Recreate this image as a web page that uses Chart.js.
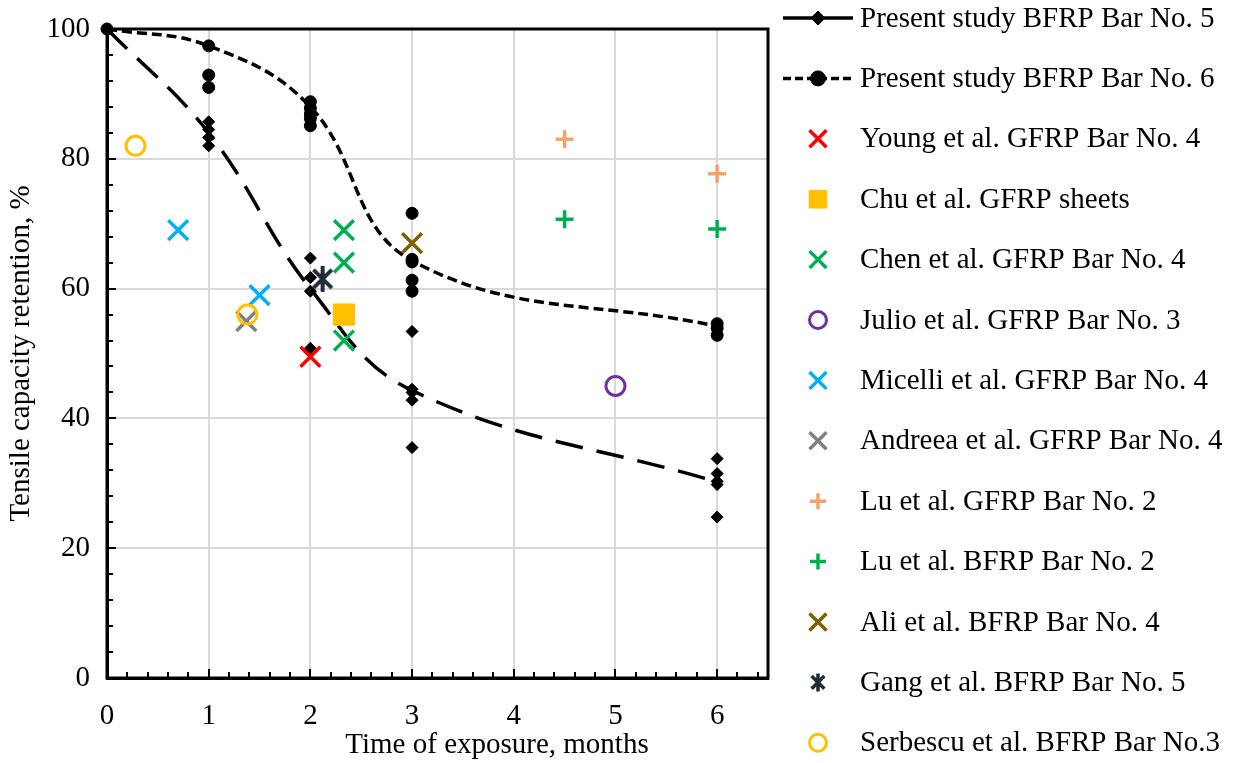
<!DOCTYPE html>
<html>
<head>
<meta charset="utf-8">
<script src="https://cdn.jsdelivr.net/npm/chart.js@4.4.1/dist/chart.umd.min.js"></script>
<style>
  html, body { margin: 0; padding: 0; background: #fff; }
  canvas { display: block; }
</style>
</head>
<body>
<canvas id="retentionChart" width="1235" height="763"></canvas>
<script>
// Tested bars: exposure time (months) and tensile capacity retention (%)
const bar5Months = [0, 1, 1, 1, 1, 2, 2, 2, 2, 3, 3, 3, 3, 3, 6, 6, 6, 6, 6];
const bar5Retention = [100, 85.7, 84.5, 83.3, 82.0, 64.7, 61.7, 59.6, 50.8, 53.4, 44.5, 44.0, 42.8, 35.5, 33.8, 31.5, 30.3, 29.8, 24.8];
const bar6Months = [0, 1, 1, 1, 2, 2, 2, 2, 2, 3, 3, 3, 3, 3, 6, 6, 6];
const bar6Retention = [100, 97.4, 92.9, 91.0, 88.8, 87.8, 86.9, 86.2, 85.1, 71.6, 64.5, 64.1, 61.3, 59.6, 54.6, 53.9, 52.8];

// Trend curves through the tested bars
const trendMonths = [0, 1, 2, 3, 6];
const bar5Trend = [100, 84, 60, 44.3, 30.2];
const bar6Trend = [100, 97.4, 88, 64.3, 54.2];

// Literature results as [months, retention %]
const young = [[2, 49.5]];
const chu = [[2.33, 56]];
const chen = [[2.33, 69], [2.33, 64], [2.33, 52]];
const julio = [[5, 45]];
const micelli = [[0.7, 69], [1.5, 59]];
const andreea = [[1.37, 55]];
const luGfrp = [[4.5, 83], [6, 77.7]];
const luBfrp = [[4.5, 70.7], [6, 69.2]];
const ali = [[3, 67]];
const gang = [[2.12, 61.5]];
const serbescu = [[0.28, 82], [1.38, 56]];

const xTicks = [0, 1, 2, 3, 4, 5, 6];
const yTicks = [0, 20, 40, 60, 80, 100];

const FONT = '"Liberation Serif", "Times New Roman", serif';

function pts(xs, ys) { return xs.map((x, i) => ({ x, y: ys[i] })); }
function pairs(list) { return list.map(([x, y]) => ({ x, y })); }

// asterisk marker: an x with a vertical bar
function drawAsterisk(ctx, cx, cy, r, color, lw) {
  const d = r * Math.SQRT1_2;
  ctx.save();
  ctx.strokeStyle = color;
  ctx.lineWidth = lw;
  ctx.beginPath();
  ctx.moveTo(cx - d, cy - d); ctx.lineTo(cx + d, cy + d);
  ctx.moveTo(cx + d, cy - d); ctx.lineTo(cx - d, cy + d);
  ctx.moveTo(cx, cy - r); ctx.lineTo(cx, cy + r);
  ctx.stroke();
  ctx.restore();
}
const gangIcon = document.createElement('canvas');
gangIcon.width = 30; gangIcon.height = 30;
drawAsterisk(gangIcon.getContext('2d'), 15, 15, 13, '#222A35', 4);

function marker(label, data, color, style, radius, legendRadius, extra) {
  return Object.assign({
    label, data,
    showLine: false,
    pointStyle: style,
    pointRadius: radius,
    pointHoverRadius: radius,
    borderColor: color,
    backgroundColor: color,
    pointBorderWidth: 3.5,
    legendRadius,
    clip: false
  }, extra || {});
}

const datasets = [
  marker('Present study BFRP Bar No. 5', pts(bar5Months, bar5Retention), '#000', 'rectRot', 6, 7,
    { pointBorderWidth: 1, legendDash: [], order: 13 }),
  marker('Present study BFRP Bar No. 6', pts(bar6Months, bar6Retention), '#000', 'circle', 6, 7.5,
    { pointBorderWidth: 1, legendDash: [8, 4], order: 12 }),
  marker('Young et al. GFRP Bar No. 4', pairs(young), '#FF0000', 'crossRot', 14, 12, { order: 11 }),
  marker('Chu et al. GFRP sheets', pairs(chu), '#FFC000', 'rect', 15, 12.5, { pointBorderWidth: 1, order: 10 }),
  marker('Chen et al. GFRP Bar No. 4', pairs(chen), '#00B050', 'crossRot', 14, 12, { order: 9 }),
  marker('Julio et al. GFRP Bar No. 3', pairs(julio), '#7030A0', 'circle', 9.5, 8.5,
    { backgroundColor: 'rgba(0,0,0,0)', pointBorderWidth: 3, order: 8 }),
  marker('Micelli et al. GFRP Bar No. 4', pairs(micelli), '#00B0F0', 'crossRot', 14, 12, { order: 7 }),
  marker('Andreea et al. GFRP Bar No. 4', pairs(andreea), '#808080', 'crossRot', 14, 12, { order: 6 }),
  marker('Lu et al. GFRP Bar No. 2', pairs(luGfrp), '#F4A46A', 'cross', 9, 8, { order: 5 }),
  marker('Lu et al. BFRP Bar No. 2', pairs(luBfrp), '#00B050', 'cross', 9, 8, { order: 4 }),
  marker('Ali et al. BFRP Bar No. 4', pairs(ali), '#7F6000', 'crossRot', 14, 12, { order: 3 }),
  marker('Gang et al. BFRP Bar No. 5', pairs(gang), '#222A35', gangIcon, 13, 9, { order: 2 }),
  marker('Serbescu et al. BFRP Bar No.3', pairs(serbescu), '#FFC000', 'circle', 9.5, 8.5,
    { backgroundColor: 'rgba(0,0,0,0)', pointBorderWidth: 3, order: 1 }),
  {
    label: 'trend5', data: pts(trendMonths, bar5Trend), showLine: true, noLegend: true,
    borderColor: '#000', borderWidth: 3.5, borderDash: [28, 14], pointRadius: 0,
    tension: 0.4, fill: false, clip: false, order: 30
  },
  {
    label: 'trend6', data: pts(trendMonths, bar6Trend), showLine: true, noLegend: true,
    borderColor: '#000', borderWidth: 3.5, borderDash: [10, 5], pointRadius: 0,
    tension: 0.4, fill: false, clip: false, order: 31
  }
];

// inward minor/major ticks and the closed plot frame
const frame = {
  id: 'frame',
  beforeDatasetsDraw(chart) {
    const { ctx, chartArea: a, scales: { x, y } } = chart;
    ctx.save();
    ctx.strokeStyle = '#000';
    ctx.lineWidth = 2;
    ctx.beginPath();
    for (let i = 1; i <= 32; i++) {
      const px = Math.round(x.getPixelForValue(i * 0.2));
      const len = i % 5 === 0 ? 9 : 6;
      ctx.moveTo(px, a.bottom);
      ctx.lineTo(px, a.bottom - len);
    }
    for (let v = 4; v < 100; v += 4) {
      const py = Math.round(y.getPixelForValue(v));
      const len = v % 20 === 0 ? 9 : 6;
      ctx.moveTo(a.left, py);
      ctx.lineTo(a.left + len, py);
    }
    ctx.stroke();
    ctx.lineWidth = 3;
    ctx.strokeRect(a.left, a.top, a.right - a.left, a.bottom - a.top);
    ctx.restore();
  },
  afterDraw(chart) {
    const ctx = chart.ctx;
    ctx.save();
    ctx.font = '29px ' + FONT;
    ctx.fillStyle = '#000';
    ctx.textAlign = 'center';
    ctx.textBaseline = 'middle';
    ctx.fillText('Time of exposure, months', 497, 745);
    ctx.restore();
  }
};

// legend column on the right
const sideLegend = {
  id: 'sideLegend',
  afterDraw(chart) {
    const ctx = chart.ctx;
    const entries = chart.data.datasets.filter(d => !d.noLegend);
    ctx.save();
    ctx.font = '29px ' + FONT;
    ctx.textBaseline = 'middle';
    ctx.textAlign = 'left';
    entries.forEach((d, i) => {
      const y = 18 + i * 60.4;
      const cx = 818;
      if (d.legendDash) {
        ctx.strokeStyle = '#000';
        ctx.lineWidth = 3.5;
        ctx.setLineDash(d.legendDash);
        ctx.beginPath();
        ctx.moveTo(783, y);
        ctx.lineTo(853, y);
        ctx.stroke();
        ctx.setLineDash([]);
      }
      if (d.pointStyle === gangIcon) {
        drawAsterisk(ctx, cx, y, d.legendRadius, d.borderColor, 3.5);
      } else {
        ctx.fillStyle = d.backgroundColor;
        ctx.strokeStyle = d.borderColor;
        ctx.lineWidth = d.pointBorderWidth;
        Chart.helpers.drawPoint(ctx, {
          pointStyle: d.pointStyle, radius: d.legendRadius, rotation: 0, borderWidth: d.pointBorderWidth
        }, cx, y);
      }
      ctx.fillStyle = '#000';
      ctx.fillText(d.label, 860, y + 1);
    });
    ctx.restore();
  }
};

new Chart(document.getElementById('retentionChart').getContext('2d'), {
  type: 'scatter',
  data: { datasets },
  options: {
    responsive: false,
    animation: false,
    devicePixelRatio: 1,
    layout: { autoPadding: false, padding: { left: 0, top: 29, right: 467, bottom: 0 } },
    plugins: {
      legend: { display: false },
      tooltip: { enabled: false }
    },
    scales: {
      x: {
        type: 'linear',
        min: 0,
        max: 6.5,
        afterBuildTicks: s => { s.ticks = xTicks.map(value => ({ value })); },
        afterFit: s => { s.height = 85; s.paddingLeft = 0; s.paddingRight = 0; },
        ticks: { color: '#000', font: { family: FONT, size: 29 }, padding: 21, maxRotation: 0 },
        grid: { color: '#D9D9D9', lineWidth: 2, drawTicks: false },
        border: { color: '#000', width: 3 }
      },
      y: {
        type: 'linear',
        min: 0,
        max: 100,
        afterBuildTicks: s => { s.ticks = yTicks.map(value => ({ value })); },
        afterFit: s => { s.width = 107; s.paddingTop = 0; s.paddingBottom = 0; },
        ticks: { color: '#000', font: { family: FONT, size: 29 }, padding: 17 },
        grid: { color: '#D9D9D9', lineWidth: 2, drawTicks: false },
        border: { color: '#000', width: 3 },
        title: {
          display: true,
          text: 'Tensile capacity retention, %',
          color: '#000',
          font: { family: FONT, size: 29 },
          padding: { top: 4, bottom: 0 }
        }
      }
    }
  },
  plugins: [frame, sideLegend]
});
</script>
</body>
</html>
